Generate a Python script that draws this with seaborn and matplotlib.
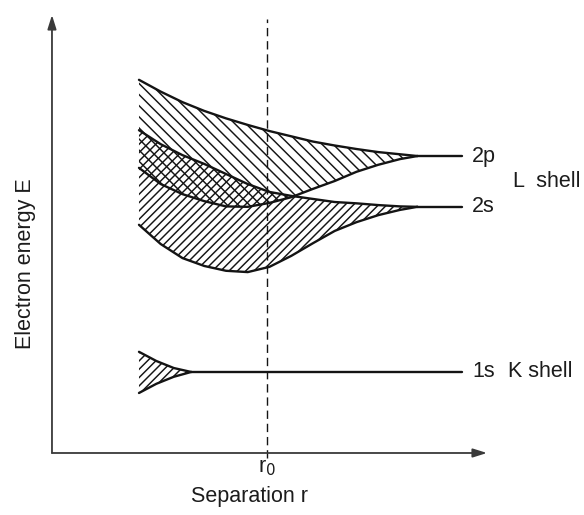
import matplotlib
matplotlib.use("Agg")
import matplotlib.pyplot as plt
import seaborn as sns
import pandas as pd

# separation r (arbitrary units) where the band edges are read
r_band = [2.0, 2.5, 3.0, 3.5, 4.0, 4.5, 5.0, 5.5, 6.0, 6.5, 7.0, 7.5, 8.0, 8.4]
e_2p_top = [8.52, 8.25, 8.01, 7.81, 7.64, 7.49, 7.35, 7.23, 7.11, 7.02, 6.94, 6.87, 6.82, 6.78]
e_2p_bot = [6.51, 6.14, 5.91, 5.75, 5.63, 5.62, 5.71, 5.84, 6.03, 6.21, 6.42, 6.58, 6.71, 6.78]
e_2s_top = [7.37, 7.05, 6.80, 6.60, 6.37, 6.14, 5.96, 5.87, 5.80, 5.73, 5.70, 5.66, 5.63, 5.62]
e_2s_bot = [5.21, 4.77, 4.45, 4.27, 4.16, 4.13, 4.25, 4.50, 4.79, 5.07, 5.27, 5.43, 5.55, 5.62]

r_1s = [2.0, 2.4, 2.8, 3.2]
e_1s_top = [2.31, 2.10, 1.94, 1.85]
e_1s_bot = [1.37, 1.58, 1.74, 1.85]

# sharp atomic levels at large separation
r_level_end = 9.43
levels = {"2p": 6.78, "2s": 5.62, "1s": 1.85}
r0 = 4.94

sns.set_theme(style="white")
plt.rcParams["font.family"] = ["Liberation Sans", "DejaVu Sans"]
plt.rcParams["hatch.linewidth"] = 1.05
plt.rcParams["hatch.color"] = "#1a1a1a"

fig = plt.figure(figsize=(5.84, 5.15), dpi=100)
ax = fig.add_axes([0.089, 0.1204, 0.7449, 0.8505])
ax.set_xlim(0, 10)
ax.set_ylim(0, 10)
ax.axis("off")

ink = "#141414"
txt = "#1c1c1c"

# hatched bands (overlap of 2p and 2s ends up cross-hatched)
ax.fill_between(r_band, e_2p_bot, e_2p_top, facecolor="none", edgecolor=ink,
                hatch="\\\\\\", linewidth=0)
ax.fill_between(r_band, e_2s_bot, e_2s_top, facecolor="none", edgecolor=ink,
                hatch="////", linewidth=0)
ax.fill_between(r_1s, e_1s_bot, e_1s_top, facecolor="none", edgecolor=ink,
                hatch="////", linewidth=0)

# band edges
edges = pd.concat([
    pd.DataFrame({"r": r_band, "E": e_2p_top, "edge": "2p top"}),
    pd.DataFrame({"r": r_band, "E": e_2p_bot, "edge": "2p bot"}),
    pd.DataFrame({"r": r_band, "E": e_2s_top, "edge": "2s top"}),
    pd.DataFrame({"r": r_band, "E": e_2s_bot, "edge": "2s bot"}),
    pd.DataFrame({"r": r_1s, "E": e_1s_top, "edge": "1s top"}),
    pd.DataFrame({"r": r_1s, "E": e_1s_bot, "edge": "1s bot"}),
])
sns.lineplot(data=edges, x="r", y="E", units="edge", estimator=None, sort=False,
             color=ink, lw=1.7, ax=ax)

# levels
ax.plot([r_band[-1], r_level_end], [levels["2p"]] * 2, color=ink, lw=1.7)
ax.plot([r_band[-1], r_level_end], [levels["2s"]] * 2, color=ink, lw=1.7)
ax.plot([r_1s[-1], r_level_end], [levels["1s"]] * 2, color=ink, lw=1.7)

# equilibrium separation
ax.plot([r0, r0], [-0.12, 9.9], color=ink, lw=1.0, dashes=(6, 3.5), clip_on=False)

# axes arrows
arrow = dict(arrowstyle="-|>,head_length=0.7,head_width=0.22", color="#3a3a3a",
             lw=1.3, shrinkA=0, shrinkB=0)
ax.annotate("", xy=(0, 10), xytext=(0, 0), arrowprops=arrow, annotation_clip=False)
ax.annotate("", xy=(10, 0), xytext=(0, 0), arrowprops=arrow, annotation_clip=False)

fs = 15.5
ax.text(9.66, levels["2p"], "2p", fontsize=fs, color=txt, va="center", ha="left")
ax.text(9.66, levels["2s"], "2s", fontsize=fs, color=txt, va="center", ha="left")
ax.text(10.6, 6.2, "L  shell", fontsize=fs, color=txt, va="center", ha="left", clip_on=False)
ax.text(9.66, levels["1s"], "1s", fontsize=fs, color=txt, va="center", ha="left")
ax.text(10.48, levels["1s"], "K shell", fontsize=fs, color=txt, va="center", ha="left", clip_on=False)
ax.text(r0, -0.33, "r$_0$", fontsize=fs, color=txt, va="center", ha="center")
ax.text(4.53, -1.0, "Separation r", fontsize=fs, color=txt, va="center", ha="center")
ax.text(-0.62, 4.32, "Electron energy E", fontsize=fs, color=txt, va="center", ha="center",
        rotation=90)

fig.savefig("out.png", dpi=100)
